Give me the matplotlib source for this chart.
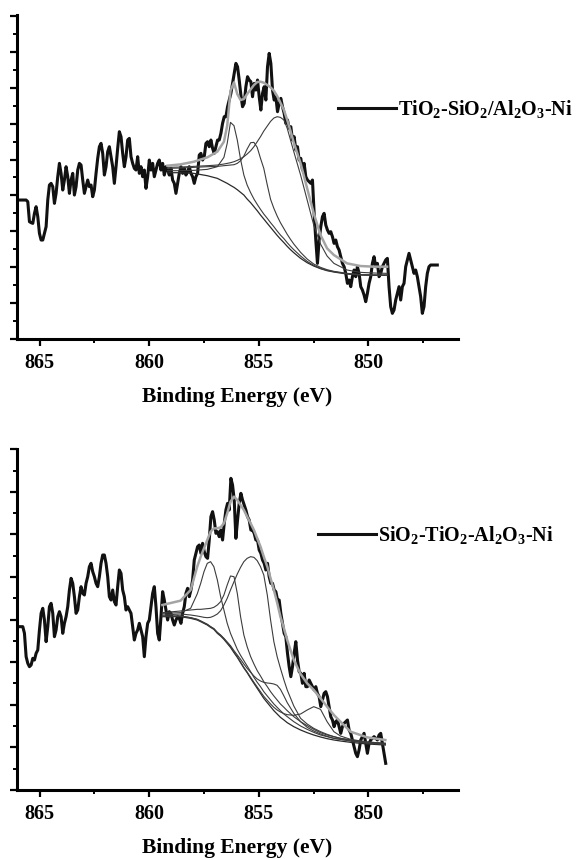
import matplotlib
matplotlib.use('Agg')
import matplotlib.pyplot as plt
from matplotlib.ticker import MultipleLocator
import numpy as np

plt.rcParams['font.family'] = ['Liberation Serif', 'DejaVu Serif']
plt.rcParams['font.weight'] = 'bold'
plt.rcParams['mathtext.fontset'] = 'custom'
plt.rcParams['mathtext.rm'] = 'Liberation Serif:bold'
plt.rcParams['mathtext.it'] = 'Liberation Serif:bold:italic'
plt.rcParams['mathtext.bf'] = 'Liberation Serif:bold'

# ---- measured spectra (a.u.), binding energy grid start / step in eV ----
E_START = 866.0
E_STEP = 0.076

top_label = 'TiO$_2$-SiO$_2$/Al$_2$O$_3$-Ni'
top_counts = [
    417, 417, 417, 417, 417, 417, 412, 352, 349, 347,
    377, 397, 367, 317, 297, 297, 317, 337, 417, 462,
    467, 457, 407, 437, 487, 527, 497, 447, 477, 517,
    487, 437, 477, 497, 432, 457, 507, 527, 522, 477,
    437, 457, 477, 457, 462, 427, 447, 497, 542, 577,
    587, 557, 492, 517, 562, 577, 547, 517, 467, 517,
    572, 622, 607, 557, 517, 547, 597, 602, 547, 527,
    512, 507, 547, 497, 517, 487, 507, 452, 487, 537,
    507, 527, 487, 507, 527, 537, 507, 527, 492, 517,
    507, 492, 512, 477, 467, 437, 467, 497, 517, 497,
    512, 492, 502, 517, 497, 487, 467, 487, 497, 552,
    557, 537, 547, 587, 592, 577, 597, 572, 557, 577,
    597, 597, 617, 647, 667, 667, 697, 717, 737, 767,
    797, 827, 817, 777, 732, 697, 707, 757, 787, 777,
    772, 727, 767, 747, 777, 727, 687, 737, 757, 717,
    817, 857, 827, 747, 717, 727, 682, 707, 722, 697,
    677, 647, 657, 632, 637, 597, 607, 567, 577, 537,
    542, 507, 527, 487, 477, 472, 467, 477, 377, 297,
    227, 297, 337, 367, 377, 342, 327, 317, 322, 307,
    287, 297, 277, 267, 247, 227, 217, 197, 167, 177,
    157, 187, 207, 187, 217, 197, 157, 147, 132, 112,
    137, 167, 187, 227, 247, 217, 227, 187, 197, 217,
    227, 237, 242, 157, 97, 77, 87, 117, 137, 157,
    117, 157, 167, 217, 237, 257, 237, 217, 197, 207,
    187, 157, 127, 77, 97, 157, 197, 217, 222, 222,
    222, 222, 222,
]

bottom_label = 'SiO$_2$-TiO$_2$-Al$_2$O$_3$-Ni'
bottom_counts = [
    490, 490, 490, 490, 470, 400, 380, 370, 375, 395,
    390, 410, 420, 480, 530, 545, 510, 445, 490, 550,
    560, 530, 460, 480, 520, 535, 520, 470, 500, 520,
    550, 600, 635, 620, 580, 530, 540, 580, 610, 590,
    585, 620, 640, 670, 680, 655, 640, 620, 610, 640,
    680, 705, 705, 680, 640, 580, 570, 600, 565, 555,
    610, 660, 650, 600, 580, 540, 550, 540, 530, 490,
    450, 470, 480, 500, 480, 460, 400, 460, 500, 510,
    550, 590, 610, 550, 470, 450, 520, 595, 570, 540,
    510, 535, 530, 510, 495, 510, 520, 515, 500, 530,
    550, 590, 605, 580, 600, 630, 690, 710, 730, 735,
    710, 740, 715, 700, 695, 750, 820, 835, 810, 770,
    775, 760, 780, 750, 800, 840, 860, 840, 935, 915,
    870, 755, 810, 860, 890, 870, 855, 840, 820, 810,
    780, 780, 770, 750, 750, 720, 710, 690, 680, 660,
    680, 640, 620, 620, 600, 595, 570, 570, 530, 500,
    470, 460, 410, 370, 340, 370, 410, 445, 390, 355,
    350, 320, 350, 310, 310, 330, 320, 310, 300, 310,
    290, 280, 250, 270, 290, 295, 280, 250, 220, 210,
    190, 205, 210, 190, 170, 190, 200, 205, 210, 180,
    170, 150, 130, 110, 100, 120, 150, 160, 170, 140,
    110, 140, 150, 155, 160, 155, 150, 165, 170, 140,
    110, 80,
]

# ---- peak-fit curves (components include the background) ----
top_fit_energy = [859.17, 858.57, 857.96, 857.35, 856.89, 856.59, 856.44, 856.29, 856.13, 855.98,
                  855.83, 855.68, 855.53, 855.37, 855.22, 855.07, 854.92, 854.77, 854.61, 854.46,
                  854.31, 854.16, 854.01, 853.85, 853.70, 853.55, 853.40, 853.09, 852.79, 852.49,
                  852.18, 851.88, 851.57, 850.97, 850.36, 849.75, 849.14]
top_background = [499, 499, 497, 490, 482, 472, 467, 461, 455, 448, 440, 432, 420, 409, 397, 385, 372,
                  360, 347, 335, 323, 311, 300, 289, 278, 268, 259, 242, 229, 219, 211, 205, 201, 195,
                  192, 191, 191]
top_peak_a = [505, 505, 506, 509, 517, 545, 587, 650, 640, 597, 539, 492, 462, 439, 420, 404, 389,
              375, 362, 349, 337, 324, 312, 301, 289, 278, 268, 249, 233, 221, 212, 206, 202, 196,
              193, 192, 192]
top_peak_b = [512, 513, 515, 517, 518, 520, 521, 522, 523, 527, 535, 549, 570, 589, 590, 575, 542,
              512, 462, 419, 392, 369, 349, 331, 314, 299, 285, 260, 240, 225, 215, 208, 203, 197,
              193, 192, 192]
top_peak_c = [515, 516, 518, 520, 522, 525, 527, 529, 532, 536, 541, 547, 555, 565, 577, 592, 607,
              624, 639, 653, 663, 667, 665, 657, 632, 597, 562, 492, 417, 342, 285, 249, 227, 207,
              200, 198, 197]
top_envelope = [520, 524, 532, 545, 562, 592, 640, 745, 770, 735, 717, 720, 735, 749, 762, 771, 772,
                769, 762, 755, 745, 729, 709, 687, 657, 624, 589, 527, 452, 377, 312, 272, 252, 227,
                219, 217, 217]

bottom_fit_energy = [859.40, 858.57, 858.11, 857.81, 857.65, 857.50, 857.35, 857.20, 857.05, 856.89,
                     856.74, 856.59, 856.44, 856.29, 856.13, 855.98, 855.83, 855.68, 855.53, 855.37,
                     855.22, 855.07, 854.92, 854.77, 854.61, 854.46, 854.31, 854.16, 854.01, 853.85,
                     853.70, 853.40, 853.09, 852.79, 852.49, 852.18, 851.88, 851.57, 851.27, 850.81,
                     850.05, 849.22]
bottom_background = [520, 520, 515, 510, 505, 500, 495, 488, 482, 470, 462, 452, 440, 428, 412, 398,
                     382, 366, 352, 335, 320, 305, 290, 275, 262, 250, 238, 228, 218, 210, 202, 190,
                     180, 172, 165, 159, 154, 150, 147, 143, 138, 135]
bottom_peak_a = [530, 532, 545, 588, 620, 655, 680, 685, 670, 630, 580, 540, 500, 470, 445, 422, 404,
                 388, 372, 355, 338, 323, 310, 295, 282, 270, 258, 248, 238, 228, 220, 205, 192, 182,
                 173, 165, 160, 155, 152, 147, 141, 137]
bottom_peak_b = [532, 537, 540, 542, 542, 543, 544, 545, 548, 555, 565, 585, 615, 642, 640, 590, 520,
                 465, 430, 400, 378, 358, 342, 325, 310, 295, 282, 270, 258, 248, 238, 220, 205, 193,
                 182, 172, 165, 160, 155, 150, 143, 138]
bottom_peak_c = [525, 528, 525, 522, 520, 518, 517, 518, 522, 528, 538, 555, 575, 600, 625, 648, 668,
                 685, 695, 700, 698, 688, 670, 645, 585, 510, 445, 400, 365, 330, 300, 252, 215, 198,
                 185, 175, 167, 160, 155, 150, 144, 140]
bottom_peak_d = [522, 522, 517, 512, 507, 502, 497, 490, 484, 473, 465, 455, 444, 433, 418, 405, 392,
                 378, 365, 353, 342, 333, 327, 323, 321, 320, 318, 314, 302, 282, 262, 230, 205, 188,
                 177, 168, 161, 155, 152, 147, 141, 137]
bottom_peak_e = [522, 522, 517, 512, 507, 502, 497, 490, 484, 472, 464, 454, 442, 430, 414, 400, 384,
                 368, 354, 338, 323, 309, 295, 281, 269, 258, 248, 240, 234, 229, 226, 224, 228, 240,
                 250, 242, 205, 175, 162, 152, 144, 140]
bottom_envelope = [555, 568, 600, 670, 700, 725, 750, 775, 785, 785, 788, 800, 830, 865, 880, 870,
                   855, 840, 820, 800, 780, 755, 730, 700, 670, 635, 600, 562, 520, 485, 450, 390,
                   348, 320, 300, 275, 250, 225, 205, 175, 158, 150]

x_ticks = [865, 860, 855, 850]


def draw_panel(ax, counts, label, fit_e, background, peaks, envelope, y_top, y_step, leg_anchor):
    energy = E_START - E_STEP * np.arange(len(counts))
    ax.plot(energy, counts, color='#111111', lw=2.2, label=label, zorder=2)
    ax.plot(fit_e, background, color='#2a2a2a', lw=0.9, zorder=3)
    for p in peaks:
        ax.plot(fit_e, p, color='#3c3c3c', lw=0.8, zorder=3)
    ax.plot(fit_e, envelope, color='#a4a4a4', lw=1.8, zorder=4)

    ax.set_xlim(866.05, 845.9)
    ax.set_ylim(0, y_top)
    ax.set_xticks(x_ticks)
    ax.xaxis.set_minor_locator(MultipleLocator(2.5))
    ax.yaxis.set_major_locator(MultipleLocator(y_step))
    ax.yaxis.set_minor_locator(MultipleLocator(y_step / 2))
    ax.set_yticklabels([])
    for s in ['top', 'right']:
        ax.spines[s].set_visible(False)
    for s in ['left', 'bottom']:
        ax.spines[s].set_linewidth(2.2)
    ax.tick_params(which='major', direction='out', length=5, width=1.6, labelsize=14.5, pad=5)
    ax.tick_params(which='minor', direction='out', length=3, width=1.4)
    ax.set_xlabel('Binding Energy (eV)', fontsize=15.5, fontweight='bold', labelpad=10.5)
    ax.legend(loc='center left', bbox_to_anchor=leg_anchor, frameon=False, fontsize=14.5,
              handlelength=2.9, handletextpad=0.1, borderpad=0, borderaxespad=0)


fig = plt.figure(figsize=(5.8, 8.6), dpi=100)
ax1 = fig.add_axes([0.0288, 0.6058, 0.761, 0.3767])
ax2 = fig.add_axes([0.0288, 0.0814, 0.761, 0.3965])

draw_panel(ax1, top_counts, top_label, top_fit_energy, top_background,
           [top_peak_a, top_peak_b, top_peak_c], top_envelope, 972, 107.7, (0.727, 0.71))
draw_panel(ax2, bottom_counts, bottom_label, bottom_fit_energy, bottom_background,
           [bottom_peak_a, bottom_peak_b, bottom_peak_c, bottom_peak_d, bottom_peak_e],
           bottom_envelope, 1023, 127.8, (0.682, 0.748))

fig.savefig('out.png', dpi=100)
